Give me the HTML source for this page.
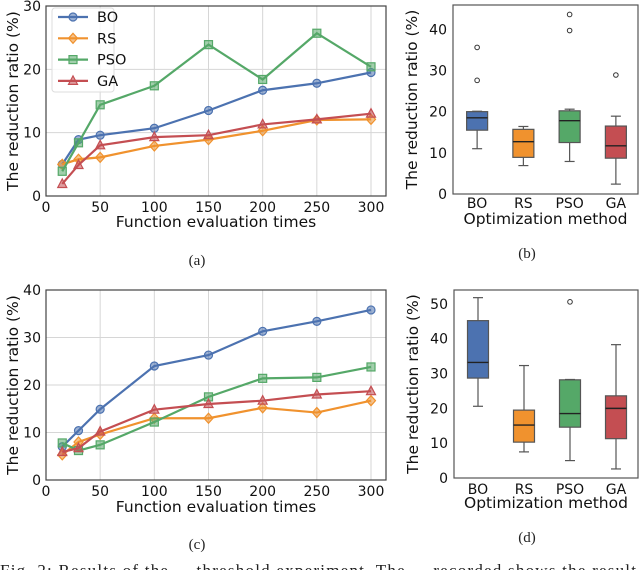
<!DOCTYPE html>
<html><head><meta charset="utf-8"><style>
html,body{margin:0;padding:0;background:#fff;}
svg{display:block;font-family:"DejaVu Sans","Liberation Sans",sans-serif;}
</style></head><body>
<svg id="fig" width="640" height="570" viewBox="0 0 640 570" xmlns="http://www.w3.org/2000/svg"></svg>
<script>
const evalTimes=[15,30,50,100,150,200,250,300];
const seriesNames=["BO","RS","PSO","GA"];
const aBO=[5,8.9,9.6,10.7,13.5,16.7,17.8,19.5];
const aRS=[5,5.8,6.1,7.9,8.9,10.3,12,12.1];
const aPSO=[3.9,8.4,14.4,17.4,23.9,18.4,25.7,20.4];
const aGA=[1.9,4.9,8.0,9.3,9.6,11.3,12.1,13];
const cBO=[7,10.4,14.9,24,26.3,31.3,33.4,35.8];
const cRS=[5.3,8,9.6,13,13,15.2,14.2,16.7];
const cPSO=[7.8,6.2,7.4,12.2,17.5,21.4,21.6,23.8];
const cGA=[5.9,6.7,10.2,14.8,16,16.7,18,18.7];
const xTicks=[0,50,100,150,200,250,300];
const aYTicks=[0,10,20,30];
const cYTicks=[0,10,20,30,40];
const methods=["BO","RS","PSO","GA"];
// box stats: [low whisker, q1, median, q3, high whisker]
const bStats=[[11,15.5,18.5,20,20.1],[6.9,8.9,12.7,15.7,16.4],[7.9,12.5,17.8,20.2,20.6],[2.4,8.7,11.7,16.5,18.9]];
const bOutliers=[[27.6,35.6],[],[39.7,43.6],[28.9]];
const dStats=[[20.6,28.7,33.2,45.2,51.8],[7.5,10.3,15.2,19.5,32.3],[5,14.6,18.5,28.2,28.3],[2.6,11.3,20,23.6,38.3]];
const dOutliers=[[],[],[50.6],[]];
const bYTicks=[0,10,20,30,40];
const dYTicks=[0,10,20,30,40,50];

const colors=["#4c72b0","#f0922e","#55a868","#c44e52"];
const NS="http://www.w3.org/2000/svg";
const svg=document.getElementById('fig');
function el(tag,attrs,parent,text){const e=document.createElementNS(NS,tag);for(const k in attrs)e.setAttribute(k,attrs[k]);if(text!==undefined)e.textContent=text;(parent||svg).appendChild(e);return e;}

function marker(g,type,x,y,c){
  let m;
  const st={fill:c,'fill-opacity':0.55,stroke:c,'stroke-width':1.2};
  if(type==="BO"){m=el('circle',Object.assign({cx:x,cy:y,r:4},st),g);}
  else if(type==="RS"){m=el('polygon',Object.assign({points:`${x},${y-5} ${x+4.5},${y} ${x},${y+5} ${x-4.5},${y}`},st),g);}
  else if(type==="PSO"){m=el('rect',Object.assign({x:x-4,y:y-4,width:8,height:8},st),g);}
  else {m=el('polygon',Object.assign({points:`${x},${y-5} ${x+4.5},${y+3.5} ${x-4.5},${y+3.5}`},st),g);}
  
  
}

function lineChart(name,L,R,T,B,ymax,yTicks,data,legend,xlabelY,tickY){
  const g=el('g',{});
  
  
  const xs=v=>L+(v/300)*(371-L);
  const ys=v=>B-(v/ymax)*(B-T);
  xTicks.forEach(t=>{
    const gl=el('line',{x1:xs(t),x2:xs(t),y1:T,y2:B,stroke:'#d6d6d6','stroke-width':1},g);
    
    const tl=el('text',{x:xs(t),y:tickY,'text-anchor':'middle','font-size':14,fill:'#111'},g,String(t));
    
  });
  yTicks.forEach(t=>{
    const gl=el('line',{x1:L,x2:R,y1:ys(t),y2:ys(t),stroke:'#d6d6d6','stroke-width':1},g);
    
    const tl=el('text',{x:L-5,y:ys(t)+5,'text-anchor':'end','font-size':14,fill:'#111'},g,String(t));
    
  });
  data.forEach((arr,i)=>{
    const pts=arr.map((v,j)=>xs(evalTimes[j])+','+ys(v)).join(' ');
    const pl=el('polyline',{points:pts,fill:'none',stroke:colors[i],'stroke-width':2.2},g);
    
    arr.forEach((v,j)=>marker(g,seriesNames[i],xs(evalTimes[j]),ys(v),colors[i]));
  });
  const fr=el('rect',{x:L,y:T,width:R-L,height:B-T,fill:'none',stroke:'#444','stroke-width':1.2},g);
  
  const xl=el('text',{x:(L+R)/2,y:xlabelY,'text-anchor':'middle','font-size':15.5,fill:'#111'},g,'Function evaluation times');
  
  const yl=el('text',{x:0,y:0,transform:`translate(18,${(T+B)/2}) rotate(-90)`,'text-anchor':'middle','font-size':15.5,fill:'#111'},g,'The reduction ratio (%)');
  
  if(legend){
    const lg=el('g',{},g);
    
    const lb=el('rect',{x:52,y:8,width:62,height:84,fill:'#fff','fill-opacity':0.8,stroke:'#ddd',rx:3},lg);
    
    seriesNames.forEach((n,i)=>{
      const y=17+i*21.3;
      const ln=el('line',{x1:58,x2:88,y1:y,y2:y,stroke:colors[i],'stroke-width':2.2},lg);
      
      marker(lg,n,73,y,colors[i]);
      const t=el('text',{x:97,y:y+5,'font-size':14.5,fill:'#111'},lg,n);
      
    });
  }
}

function boxChart(name,L,R,T,B,ymax,yTicks,stats,outs,tickY,xlabelY){
  const g=el('g',{});
  
  
  const ys=v=>B-(v/ymax)*(B-T);
  const cx=i=>L+(R-L)*(i+0.5)/4+1;
  yTicks.forEach(t=>{
    const tl=el('text',{x:L-6,y:ys(t)+5,'text-anchor':'end','font-size':14,fill:'#111'},g,String(t));
    
  });
  stats.forEach((s,i)=>{
    const x=cx(i),w=21;
    const wl=el('line',{x1:x,x2:x,y1:ys(s[0]),y2:ys(s[1]),stroke:'#555','stroke-width':1.2},g);
    
    const wh=el('line',{x1:x,x2:x,y1:ys(s[3]),y2:ys(s[4]),stroke:'#555','stroke-width':1.2},g);
    
    [s[0],s[4]].forEach(v=>{const c=el('line',{x1:x-5,x2:x+5,y1:ys(v),y2:ys(v),stroke:'#555','stroke-width':1.2},g);
      });
    const bx=el('rect',{x:x-w/2,y:ys(s[3]),width:w,height:ys(s[1])-ys(s[3]),fill:colors[i],stroke:'#555','stroke-width':1.2},g);
    
    const md=el('line',{x1:x-w/2,x2:x+w/2,y1:ys(s[2]),y2:ys(s[2]),stroke:'#222','stroke-width':1.4},g);
    
    outs[i].forEach(v=>{const o=el('circle',{cx:x,cy:ys(v),r:2.3,fill:'none',stroke:'#333','stroke-width':1},g);
      });
    const tl=el('text',{x:x,y:tickY,'text-anchor':'middle','font-size':14,fill:'#111'},g,methods[i]);
    
  });
  const fr=el('rect',{x:L,y:T,width:R-L,height:B-T,fill:'none',stroke:'#555','stroke-width':1.2},g);
  
  const xl=el('text',{x:(L+R)/2,y:xlabelY,'text-anchor':'middle','font-size':15.5,fill:'#111'},g,'Optimization method');
  
  const yl=el('text',{x:0,y:0,transform:`translate(${L-36},${(T+B)/2}) rotate(-90)`,'text-anchor':'middle','font-size':15.5,fill:'#111'},g,'The reduction ratio (%)');
  
}

lineChart('chart-a',46,386,6,196,30,aYTicks,[aBO,aRS,aPSO,aGA],true,227,212);
lineChart('chart-c',46,386,290,480,40,cYTicks,[cBO,cRS,cPSO,cGA],false,512,496);
boxChart('chart-b',453,638,5,194,45.9,bYTicks,bStats,bOutliers,208,224);
boxChart('chart-d',454,638,290,478,54,dYTicks,dStats,dOutliers,494,508);

[['(a)',197,265],['(b)',527,258],['(c)',197,549],['(d)',527,542]].forEach(c=>{
  const t=el('text',{x:c[1],y:c[2],'text-anchor':'middle','font-size':15,'font-family':'"Liberation Serif",serif',fill:'#222'},svg,c[0]);
  
  
});
const fc=el('text',{x:0,y:576,'font-size':17,'font-family':'"Liberation Serif",serif',fill:'#222',textLength:636,lengthAdjust:'spacing'},svg,'Fig. 2: Results of the ... threshold experiment. The ... recorded shows the result');


</script>
</body></html>
